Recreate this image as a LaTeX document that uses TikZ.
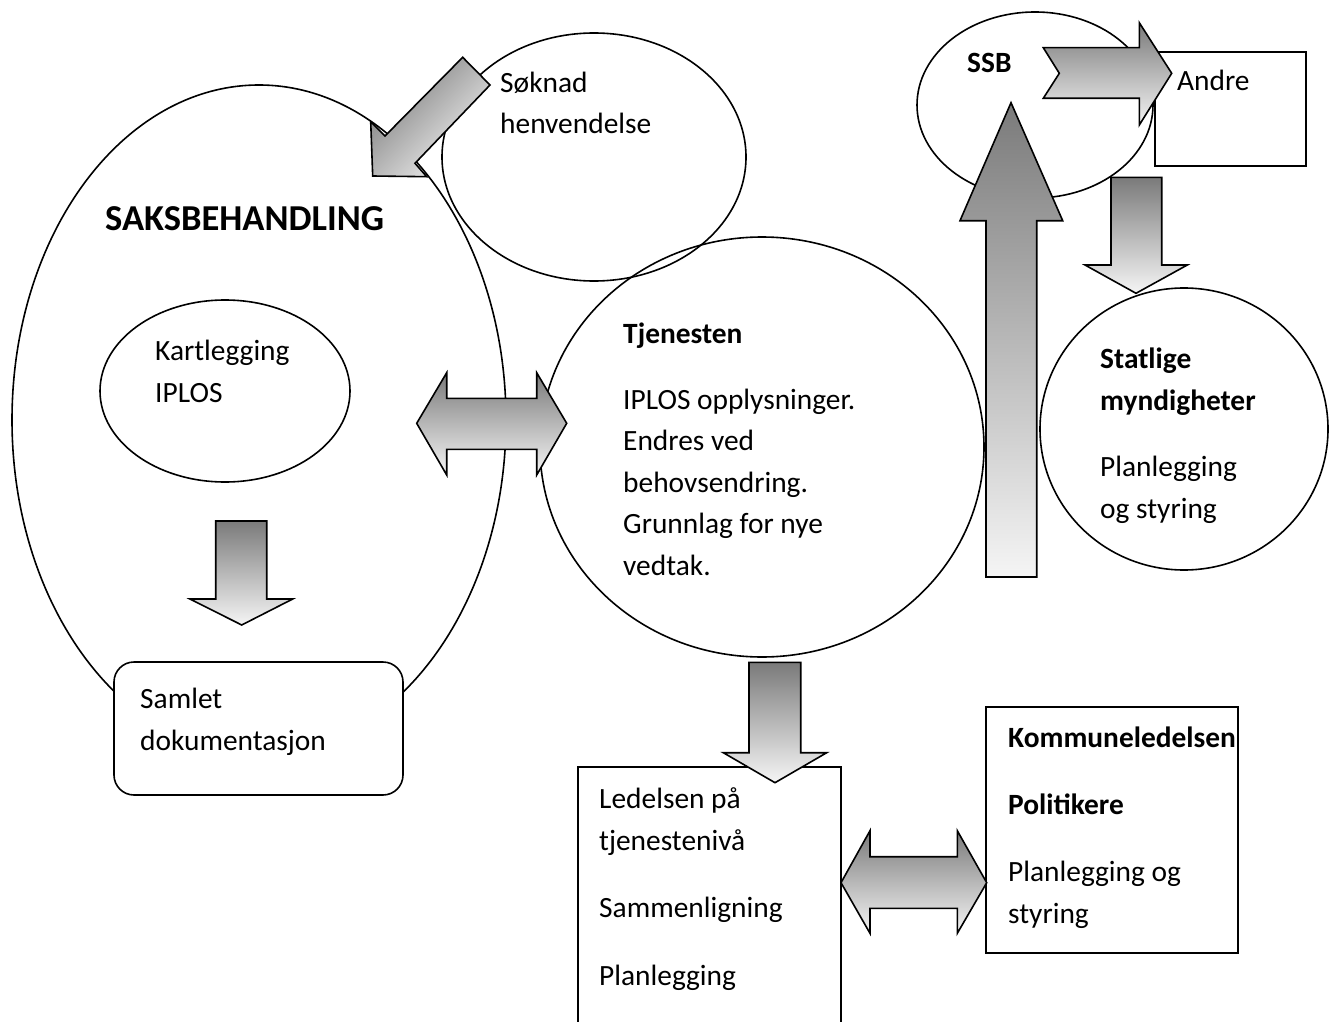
\documentclass[tikz,border=0pt]{standalone}
\usepackage{fontspec}
\setmainfont{Carlito}
\usetikzlibrary{shapes.geometric}
\begin{document}
\begin{tikzpicture}[x=1pt,y=-1pt,
  oval/.style={ellipse, draw=black, line width=1.6pt, inner sep=0pt},
  boxshape/.style={rectangle, draw=black, line width=1.6pt, fill=white, inner sep=0pt},
  blockarrow/.style={draw=black, line width=1.6pt, line join=miter, top color=black!52, bottom color=black!4},
  txt/.style={anchor=base west, align=left, inner sep=0pt, font=\fontsize{29.4}{41.5}\selectfont},
  bigtxt/.style={anchor=base west, inner sep=0pt, font=\fontsize{36.5}{44}\selectfont\bfseries}]
\useasboundingbox (0,0) rectangle (1336,1022);

% ovals
\node[oval, minimum width=494pt, minimum height=670pt] (saks) at (259,420) {};
\node[oval, minimum width=304pt, minimum height=248pt] (soknad) at (594,157) {};
\node[oval, minimum width=250pt, minimum height=182pt] (kart) at (225,391) {};
\node[oval, minimum width=444pt, minimum height=420pt] (tjen) at (762,447) {};
\node[oval, minimum width=236pt, minimum height=186pt] (ssb) at (1035,105) {};
\node[oval, minimum width=288pt, minimum height=282pt] (stat) at (1184,429) {};

% boxes
\node[boxshape, rounded corners=20pt, minimum width=289pt, minimum height=133pt] (samlet) at (258.5,728.5) {};
\node[boxshape, minimum width=263pt, minimum height=270pt] (ledelsen) at (709.5,902) {};
\node[boxshape, minimum width=252pt, minimum height=246pt] (kommune) at (1112,830) {};
\node[boxshape, minimum width=151pt, minimum height=114pt] (andre) at (1230.5,109) {};

% block arrows
\path[blockarrow, shading angle=45] (462.7,57.3) -- (490,85) -- (415,163.3) -- (426.7,176.7)
  -- (372.7,176) -- (370.7,121.7) -- (385,136) -- cycle;
\path[blockarrow] (215.7,521) -- (266.7,521) -- (266.7,599) -- (292.7,599) -- (241.7,625)
  -- (190,599) -- (215.7,599) -- cycle;
\path[blockarrow] (416.7,423.3) -- (446.7,372.7) -- (446.7,398.3) -- (536.7,398.3) -- (536.7,372.7)
  -- (566.7,423.3) -- (536.7,475) -- (536.7,449.3) -- (446.7,449.3) -- (446.7,475) -- cycle;
\path[blockarrow] (749,662.3) -- (800.7,662.3) -- (800.7,752.7) -- (826.7,752.7) -- (775,782.7)
  -- (723.3,752.7) -- (749,752.7) -- cycle;
\path[blockarrow] (841,882.7) -- (870,830.7) -- (870,856.7) -- (957.3,856.7) -- (957.3,830.7)
  -- (986.7,882.7) -- (957.3,933.3) -- (957.3,908.3) -- (870,908.3) -- (870,933.3) -- cycle;
\path[blockarrow] (1011,102.7) -- (1062.7,220.7) -- (1036.7,220.7) -- (1036.7,577) -- (986,577)
  -- (986,220.7) -- (960,220.7) -- cycle;
\path[blockarrow] (1043.3,47.7) -- (1139.3,47.7) -- (1139.3,22.7) -- (1171.7,73.3) -- (1139.3,125)
  -- (1139.3,98.3) -- (1043.3,98.3) -- (1059.3,73.3) -- cycle;
\path[blockarrow] (1111,177.3) -- (1161.7,177.3) -- (1161.7,265) -- (1187.3,265) -- (1136,293.3)
  -- (1085,265) -- (1111,265) -- cycle;

% texts (multi-line nodes: base = baseline of last line)
\node[txt] (tsoknad) at (500,134) {Søknad\\henvendelse};
\node[bigtxt] (tsaks) at (105,230) {SAKSBEHANDLING};
\node[txt] (tkart) at (155,402) {Kartlegging\\IPLOS};
\node[txt] (ttjen1) at (623,343) {\bfseries Tjenesten};
\node[txt] (ttjen2) at (623,575) {IPLOS opplysninger.\\Endres ved\\behovsendring.\\Grunnlag for nye\\vedtak.};
\node[txt] (tsamlet) at (140,750) {Samlet\\dokumentasjon};
\node[txt] (tled1) at (599,850) {Ledelsen på\\tjenestenivå};
\node[txt] (tled2) at (599,917) {Sammenligning};
\node[txt] (tled3) at (599,985) {Planlegging};
\node[txt] (tkom1) at (1008,747) {\bfseries Kommuneledelsen};
\node[txt] (tkom2) at (1008,814) {\bfseries Politikere};
\node[txt] (tkom3) at (1008,923) {Planlegging og\\styring};
\node[txt] (tssb) at (967,73) {\bfseries SSB};
\node[txt] (tandre) at (1177,91) {Andre};
\node[txt] (tstat1) at (1100,410) {\bfseries Statlige\\\bfseries myndigheter};
\node[txt] (tstat2) at (1100,518) {Planlegging\\og styring};
\end{tikzpicture}
\end{document}
